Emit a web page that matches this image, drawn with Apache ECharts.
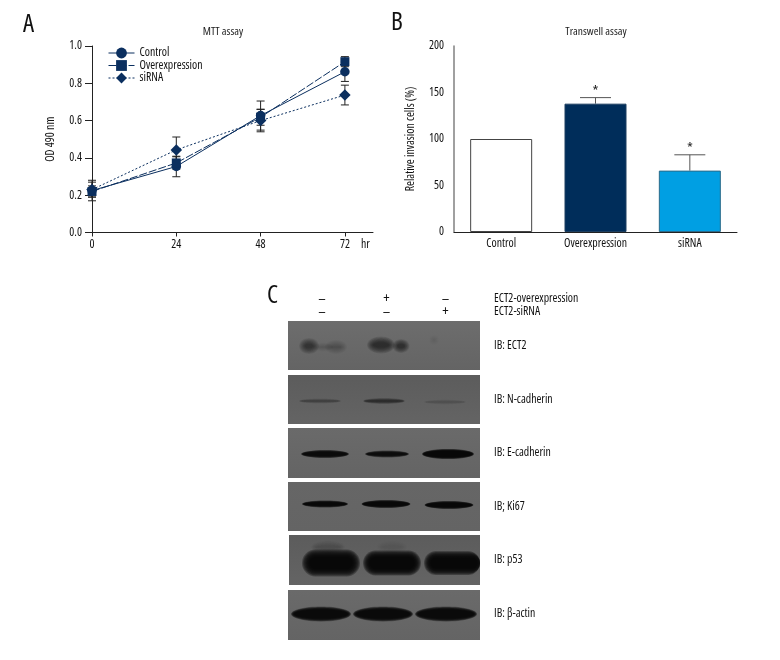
<!DOCTYPE html>
<html><head><meta charset="utf-8">
<style>html,body{margin:0;padding:0;background:#fff}#c{width:780px;height:660px}</style>
<script src="https://cdn.jsdelivr.net/npm/echarts@6/dist/echarts.min.js"></script>
</head><body><div id="c"></div>
<script>
const hours = [0, 24, 48, 72];
const controlOD = [0.225, 0.354, 0.627, 0.862];
const overOD = [0.22, 0.373, 0.618, 0.916];
const sirnaOD = [0.23, 0.443, 0.60, 0.737];
const controlErr = [0.055, 0.055, 0.078, 0.052];
const overErr = [0.03, 0.033, 0.043, 0.027];
const sirnaErr = [0.04, 0.069, 0.06, 0.053];
const barCategories = ['Control', 'Overexpression', 'siRNA'];
const barValues = [100, 138, 66];
const barErrors = [0, 6.5, 17];
const barMarks = ['', '*', '*'];
const blotPanels = ['IB: ECT2', 'IB: N-cadherin', 'IB: E-cadherin', 'IB; Ki67', 'IB: p53', 'IB: β-actin'];
const overexpressionSigns = ['–', '+', '–'];
const sirnaSigns = ['–', '–', '+'];
const treatmentNames = ['ECT2-overexpression', 'ECT2-siRNA'];
const F = '"Open Sans",sans-serif';
const W = 'condensed';
const NAVY = '#0b2f5f';
const TS = 11.8;
const lab = (o) => Object.assign({ fontSize: TS, color: '#111', fontFamily: F, fontWeight: W }, o || {});

// Rendering recipe of the blot photograph
const PANEL_STYLE = [
  {y0:321,y1:370,c:'#6d6d6d',x0:288},{y0:375,y1:424,c:'#5c5c5c',x0:288},{y0:428,y1:478,c:'#6a6a6a',x0:288},
  {y0:482,y1:531,c:'#666666',x0:288},{y0:535,y1:585,c:'#5c5c5c',x0:289},{y0:590,y1:640,c:'#6a6a6a',x0:288}
];
// cx, cy, core width, core height, darkness, softness, rounded-rect flag
const BAND_SHAPES = [
  [[309,346,8,4,.48,6],[336,347,10,2,.22,6],[323,347,12,1,.1,4],[381,345,16,5,.6,6],[401,346,7,4,.52,5],[434,340,2,2,.06,4]],
  [[320,401,38,1,.32,2],[384,401,38,2,.5,2],[445,402,38,1,.13,2]],
  [[325,454,44,4,.95,2],[387,454,40,3,.9,2],[448,454,48,6,1,2]],
  [[325,504,42,3,1,2],[386,504,45,4,1,2],[449,505,45,4,1,2]],
  [[331,563,42,11,1,8,1],[392,563,44,11,1,7,1],[454,563,46,10,1,7,1],[328,547,24,3,.12,5],[392,547,20,3,.08,5]],
  [[321,614,54,9,.95,3],[383,614,54,9,.95,3],[446,614,56,9,.95,3]]
];

function errorRender(capPx, color, lw, upperOnly) {
  return function (params, api) {
    const x = api.value(0), y = api.value(1), e = api.value(2);
    if (!e) return { type: 'group', children: [] };
    const top = api.coord([x, y + e]), bot = api.coord([x, upperOnly ? y : y - e]);
    const style = { stroke: color, lineWidth: lw, fill: null };
    const kids = [
      { type: 'line', shape: { x1: top[0], y1: top[1], x2: bot[0], y2: bot[1] }, style },
      { type: 'line', shape: { x1: top[0] - capPx, y1: top[1], x2: top[0] + capPx, y2: top[1] }, style }
    ];
    if (!upperOnly) kids.push({ type: 'line', shape: { x1: bot[0] - capPx, y1: bot[1], x2: bot[0] + capPx, y2: bot[1] }, style });
    return { type: 'group', children: kids };
  };
}
function errSeries(vals, errs) {
  return { type: 'custom', xAxisIndex: 0, yAxisIndex: 0, z: 1, silent: true,
    renderItem: errorRender(4, '#222', 1, false), data: hours.map((h, i) => [h, vals[i], errs[i]]) };
}
function lineSeries(name, vals, symbol, size, dash) {
  return { name, type: 'line', xAxisIndex: 0, yAxisIndex: 0, z: 3, symbol, symbolSize: size, showSymbol: true,
    lineStyle: { color: NAVY, width: 1, type: dash }, itemStyle: { color: NAVY }, data: hours.map((h, i) => [h, vals[i]]) };
}

const LAYERS = 9;
const blotSeries = {
  type: 'custom', xAxisIndex: 2, yAxisIndex: 2, silent: true, clip: false,
  data: blotPanels.map((p, i) => [0, p, i]),
  renderItem(params, api) {
    const i = api.value(2), s = PANEL_STYLE[i];
    const kids = [{ type: 'rect', shape: { x: s.x0, y: s.y0, width: 480 - s.x0, height: s.y1 - s.y0 },
      style: { fill: { type: 'linear', x: 0, y: 0, x2: 0, y2: 1, colorStops: [{ offset: 0, color: s.c }, { offset: 1, color: '#646464' }] } } }];
    BAND_SHAPES[i].forEach(b => {
      const a = 1 - Math.pow(1 - Math.min(b[4], 0.97), 1 / LAYERS);
      for (let k = 0; k < LAYERS; k++) {
        const g = b[5] * k / (LAYERS - 1);
        const hw = b[2] / 2 + g, hh = b[3] / 2 + g;
        const fill = 'rgba(6,6,6,' + a + ')';
        if (b[6]) {
          const x0 = Math.max(b[0] - hw, s.x0), x1 = Math.min(b[0] + hw, 480);
          kids.push({ type: 'rect', shape: { x: x0, y: b[1] - hh, width: x1 - x0, height: 2 * hh, r: Math.min(hh, hw) }, style: { fill } });
        } else {
          kids.push({ type: 'ellipse', shape: { cx: b[0], cy: b[1], rx: hw, ry: hh }, style: { fill } });
        }
      }
    });
    return { type: 'group', children: kids };
  }
};

const txt = (text, x, y, size, extra) => ({ type: 'text', x, y, style: Object.assign({ text, fontSize: size, fontFamily: F, fontWeight: W, fill: '#111', verticalAlign: 'middle', align: 'left' }, extra || {}) });
const graphics = [
  txt('A', 23, 25, 25), txt('B', 391, 23, 25), txt('C', 267, 296, 25),
  txt(treatmentNames[0], 494, 299, TS), txt(treatmentNames[1], 494, 312, TS)
];
[322, 386.5, 445.5].forEach((x, i) => {
  graphics.push(txt(overexpressionSigns[i], x, 299, 15, { align: 'center' }));
  graphics.push(txt(sirnaSigns[i], x, 312, 15, { align: 'center' }));
});

const axisBase = { lineStyle: { color: '#222', width: 1 } };
const chart = echarts.init(document.getElementById('c'), null, { renderer: 'canvas' });
chart.setOption({
  animation: false, backgroundColor: '#fff',
  title: [
    { text: 'MTT assay', left: 218, top: 27, textAlign: 'center', textVerticalAlign: 'middle', textStyle: lab({ fontSize: 11.5, color: '#222' }) },
    { text: 'Transwell assay', left: 591, top: 27, textAlign: 'center', textVerticalAlign: 'middle', textStyle: lab({ fontSize: 11.5, color: '#222' }) }
  ],
  legend: { left: 103, top: 42, orient: 'vertical', itemGap: 0.5, itemWidth: 26, itemHeight: 13.5, data: ['Control', 'Overexpression', 'siRNA'],
    lineStyle: { width: 1 }, textStyle: lab({ padding: [1, 0, 0, 0] }) },
  grid: [
    { left: 92, top: 46, width: 281, height: 186.5 },
    { left: 454, top: 46, width: 283, height: 186 },
    { left: 288, top: 319, width: 192, height: 321 }
  ],
  xAxis: [
    { type: 'value', gridIndex: 0, min: 0, max: 80, interval: 24, splitLine: { show: false }, axisLine: axisBase, axisTick: { length: 4, lineStyle: { color: '#222' } },
      axisLabel: lab({ margin: 6, showMaxLabel: false }), name: 'hr', nameLocation: 'end', nameGap: -12, nameTextStyle: lab({ verticalAlign: 'top', padding: [6, 0, 0, 0] }) },
    { type: 'category', gridIndex: 1, data: barCategories, axisLine: axisBase, axisTick: { alignWithLabel: true, length: 3, lineStyle: { color: '#555' } }, axisLabel: lab({ margin: 6, interval: 0 }) },
    { type: 'value', gridIndex: 2, min: 0, max: 1, show: false }
  ],
  yAxis: [
    { type: 'value', gridIndex: 0, min: 0, max: 1, interval: 0.2, splitLine: { show: false }, axisLine: { show: true, lineStyle: { color: '#222', width: 1 } }, axisTick: { show: true, length: 7, lineStyle: { color: '#222' } },
      axisLabel: lab({ margin: 10, formatter: v => v.toFixed(1) }), name: 'OD 490 nm', nameLocation: 'middle', nameGap: 35, nameTextStyle: lab() },
    { type: 'value', gridIndex: 1, min: 0, max: 200, interval: 50, splitLine: { show: false }, axisLine: { show: true, lineStyle: { color: '#808080', width: 1.5 } }, axisTick: { show: false },
      axisLabel: lab({ margin: 10 }), name: 'Relative invasion cells (%)', nameLocation: 'middle', nameGap: 37, nameTextStyle: lab() },
    { type: 'category', gridIndex: 2, inverse: true, position: 'right', data: blotPanels, axisLine: { show: false }, axisTick: { show: false },
      axisLabel: lab({ margin: 14, align: 'left' }) }
  ],
  graphic: { elements: graphics },
  series: [
    errSeries(controlOD, controlErr), errSeries(overOD, overErr), errSeries(sirnaOD, sirnaErr),
    lineSeries('Control', controlOD, 'circle', 9.5, 'solid'),
    lineSeries('Overexpression', overOD, 'rect', 9, [8, 2]),
    lineSeries('siRNA', sirnaOD, 'diamond', 11.5, [2, 2]),
    { type: 'bar', xAxisIndex: 1, yAxisIndex: 1, barWidth: 62, z: 2,
      data: barValues.map((v, i) => ({ value: v, itemStyle: {
        color: ['#ffffff', '#002d5a', '#009fe3'][i], borderColor: ['#444', '#1d3f60', '#2a6a8a'][i], borderWidth: 1 } })) },
    { type: 'custom', xAxisIndex: 1, yAxisIndex: 1, z: 1, silent: true, renderItem: errorRender(15.5, '#555', 1, true),
      data: barValues.map((v, i) => [i, v, barErrors[i]]) },
    { type: 'custom', xAxisIndex: 1, yAxisIndex: 1, z: 3, silent: true,
      data: barValues.map((v, i) => [i, v + barErrors[i], i]),
      renderItem(p, api) {
        const c = api.coord([api.value(0), api.value(1)]);
        return { type: 'text', x: c[0], y: c[1] - 6, style: { text: barMarks[p.dataIndex], fontSize: 15, fontFamily: F, fontWeight: W, fill: '#222', align: 'center', verticalAlign: 'middle' } };
      } },
    blotSeries
  ]
});
</script></body></html>
